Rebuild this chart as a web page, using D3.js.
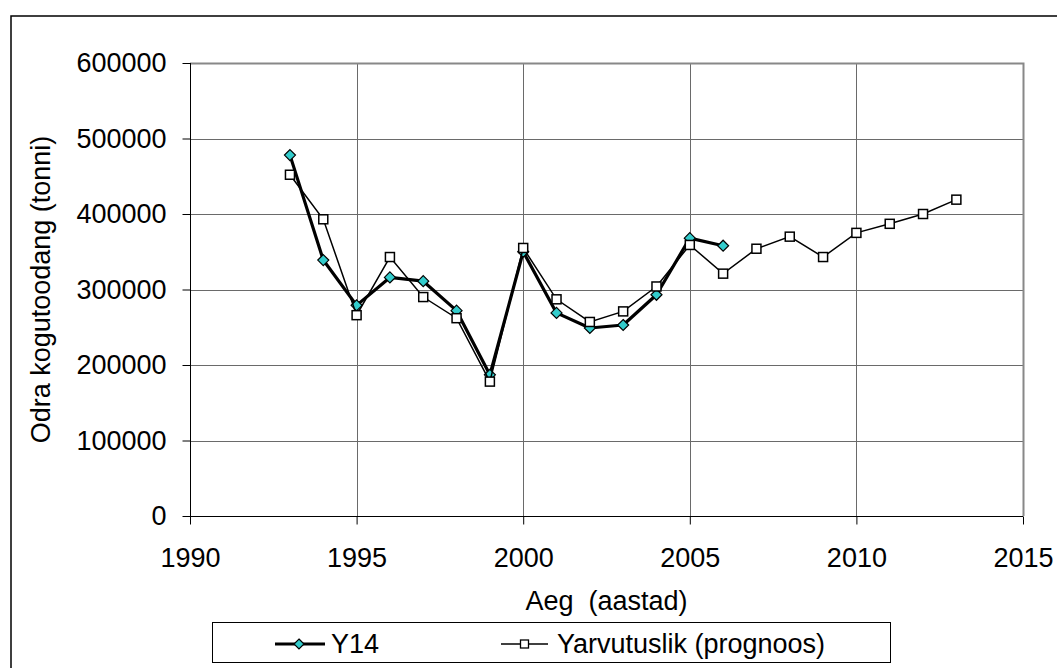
<!DOCTYPE html>
<html>
<head>
<meta charset="utf-8">
<script src="https://cdn.jsdelivr.net/npm/d3@7"></script>
<style>
  html, body { margin: 0; padding: 0; background: #fff; }
  svg { display: block; font-family: "Liberation Sans", Arial, sans-serif; }
</style>
</head>
<body>
<svg id="chart" width="1057" height="668"></svg>
<script>
// Barley yield series (tonnes) by year
const y14Years = [1993, 1994, 1995, 1996, 1997, 1998, 1999, 2000, 2001, 2002, 2003, 2004, 2005, 2006];
const y14Values = [478000, 339000, 279000, 316000, 311000, 272000, 187000, 350000, 269000, 249000, 253000, 293000, 368000, 358000];

const forecastYears = [1993, 1994, 1995, 1996, 1997, 1998, 1999, 2000, 2001, 2002, 2003, 2004, 2005, 2006, 2007, 2008, 2009, 2010, 2011, 2012, 2013];
const forecastValues = [452000, 393000, 266000, 343000, 290000, 262000, 178000, 355000, 287000, 257000, 271000, 304000, 359000, 321000, 354000, 370000, 343000, 375000, 387000, 400000, 419000];

const xTicks = [1990, 1995, 2000, 2005, 2010, 2015];
const yTicks = [0, 100000, 200000, 300000, 400000, 500000, 600000];

const seriesNames = ["Y14", "Yarvutuslik (prognoos)"];
const xTitle = "Aeg  (aastad)";
const yTitle = "Odra kogutoodang (tonni)";

const svg = d3.select("#chart");
const FONT = 27;

const plot = { left: 190, right: 1023, top: 63, bottom: 516 };

const x = d3.scaleLinear().domain([1990, 2015]).range([plot.left, plot.right]);
const y = d3.scaleLinear().domain([0, 600000]).range([plot.bottom, plot.top]);

// Outer chart frame (runs past the right and bottom edges)
svg.append("rect")
  .attr("x", 11).attr("y", 16)
  .attr("width", 1200).attr("height", 800)
  .attr("fill", "#fff")
  .attr("stroke", "#000").attr("stroke-width", 1.5);

// Gridlines
const grid = svg.append("g");
grid.selectAll("line.h").data(yTicks.filter(d => d > 0)).join("line")
  .attr("x1", plot.left).attr("x2", plot.right)
  .attr("y1", d => Math.round(y(d)) + 0.5).attr("y2", d => Math.round(y(d)) + 0.5)
  .attr("stroke", "#6a6a6a").attr("stroke-width", 1);
grid.selectAll("line.v").data(xTicks.filter(d => d > 1990 && d < 2015)).join("line")
  .attr("x1", d => Math.round(x(d)) + 0.5).attr("x2", d => Math.round(x(d)) + 0.5)
  .attr("y1", plot.top).attr("y2", plot.bottom)
  .attr("stroke", "#6a6a6a").attr("stroke-width", 1);

// Plot area border (top and right)
svg.append("path")
  .attr("d", `M${plot.left},${plot.top + 0.5}H${plot.right + 0.5}V${plot.bottom}`)
  .attr("fill", "none").attr("stroke", "#888").attr("stroke-width", 2);

// Axes
const xAxis = d3.axisBottom(x).tickValues(xTicks).tickFormat(d3.format("d"))
  .tickSize(8).tickPadding(23);
const yAxis = d3.axisLeft(y).tickValues(yTicks).tickFormat(d3.format("d"))
  .tickSize(8).tickPadding(16);

const gx = svg.append("g").attr("transform", `translate(0,${plot.bottom + 0.5})`).call(xAxis);
const gy = svg.append("g").attr("transform", `translate(${plot.left + 0.5},0)`).call(yAxis);
[gx, gy].forEach(g => {
  g.select(".domain").attr("stroke", "#000").attr("stroke-width", 1);
  g.selectAll(".tick line").attr("stroke", "#000");
  g.selectAll("text").attr("font-size", FONT).attr("fill", "#000")
    .attr("font-family", "'Liberation Sans', Arial, sans-serif");
});
gx.select(".domain").attr("d", `M${plot.left},0H${plot.right}`);
gy.select(".domain").attr("d", `M0,${plot.bottom}V${plot.top}`);

// Axis titles
svg.append("text")
  .attr("x", (plot.left + plot.right) / 2).attr("y", 610)
  .attr("text-anchor", "middle").attr("font-size", FONT)
  .style("white-space", "pre")
  .text(xTitle);
svg.append("text")
  .attr("transform", `translate(50,${(plot.top + plot.bottom) / 2}) rotate(-90)`)
  .attr("text-anchor", "middle").attr("font-size", FONT)
  .text(yTitle);

const line = d3.line().x(d => x(d[0])).y(d => y(d[1]));
const y14Data = y14Years.map((yr, i) => [yr, y14Values[i]]);
const fcData = forecastYears.map((yr, i) => [yr, forecastValues[i]]);

const diamond = s => `M0,${-s}L${s},0L0,${s}L${-s},0Z`;

// Series 1: Y14
svg.append("path").datum(y14Data)
  .attr("d", line).attr("fill", "none")
  .attr("stroke", "#000").attr("stroke-width", 3.2).attr("stroke-linejoin", "round");
svg.append("g").selectAll("path").data(y14Data).join("path")
  .attr("transform", d => `translate(${x(d[0])},${y(d[1])})`)
  .attr("d", diamond(5.5))
  .attr("fill", "#33cccc").attr("stroke", "#000").attr("stroke-width", 1.2);

// Series 2: forecast
svg.append("path").datum(fcData)
  .attr("d", line).attr("fill", "none")
  .attr("stroke", "#000").attr("stroke-width", 1.5);
svg.append("g").selectAll("rect").data(fcData).join("rect")
  .attr("x", d => x(d[0]) - 4.5).attr("y", d => y(d[1]) - 4.5)
  .attr("width", 9).attr("height", 9)
  .attr("fill", "#fff").attr("stroke", "#000").attr("stroke-width", 1.5);

// Legend
const legend = svg.append("g");
legend.append("rect")
  .attr("x", 212.5).attr("y", 622.5).attr("width", 678).attr("height", 40)
  .attr("fill", "#fff").attr("stroke", "#000").attr("stroke-width", 1);

legend.append("line")
  .attr("x1", 275).attr("x2", 325).attr("y1", 644).attr("y2", 644)
  .attr("stroke", "#000").attr("stroke-width", 3.2);
legend.append("path")
  .attr("transform", "translate(299,644)")
  .attr("d", diamond(5))
  .attr("fill", "#33cccc").attr("stroke", "#000").attr("stroke-width", 1.2);
legend.append("text")
  .attr("x", 331).attr("y", 653).attr("font-size", FONT)
  .text(seriesNames[0]);

legend.append("line")
  .attr("x1", 501).attr("x2", 548).attr("y1", 644).attr("y2", 644)
  .attr("stroke", "#000").attr("stroke-width", 1.5);
legend.append("rect")
  .attr("x", 520.5).attr("y", 640).attr("width", 8).attr("height", 8)
  .attr("fill", "#fff").attr("stroke", "#000").attr("stroke-width", 1.3);
legend.append("text")
  .attr("x", 557).attr("y", 653).attr("font-size", FONT)
  .text(seriesNames[1]);
</script>
</body>
</html>
